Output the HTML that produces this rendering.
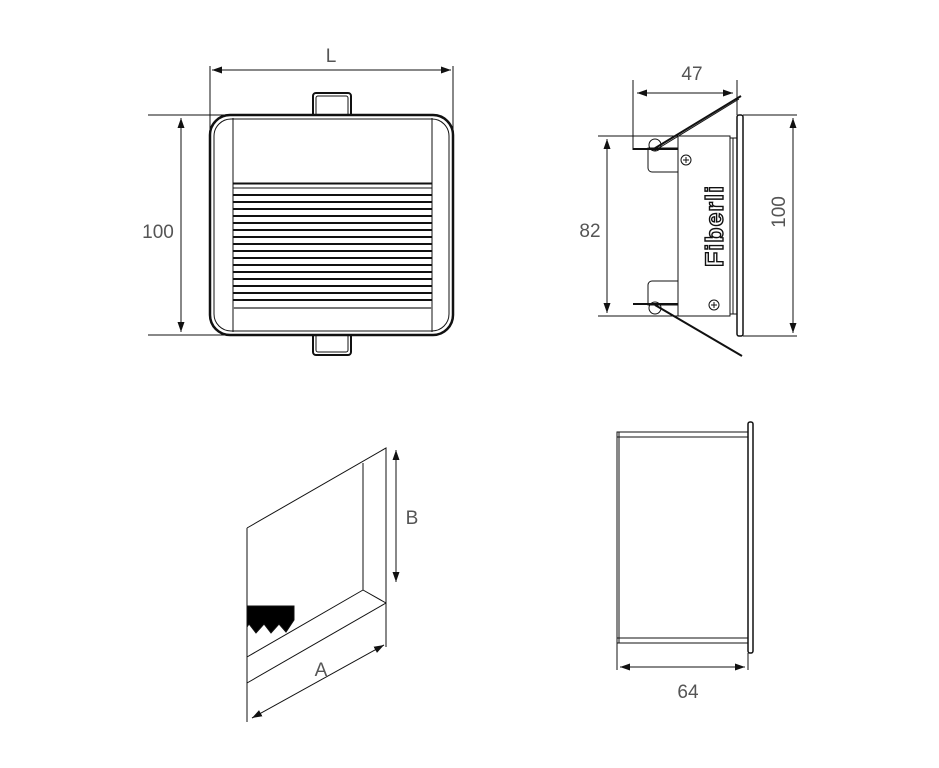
<!DOCTYPE html>
<html><head><meta charset="utf-8"><style>
html,body{margin:0;padding:0;background:#fff;}
svg{display:block;}
text{font-family:"Liberation Sans",sans-serif;fill:#555;font-size:19px;}
</style></head><body>
<svg width="939" height="768" viewBox="0 0 939 768" xmlns="http://www.w3.org/2000/svg">
<defs>
<marker id="a" viewBox="0 0 10 10" refX="10" refY="5" markerWidth="10" markerHeight="10" orient="auto-start-reverse" markerUnits="userSpaceOnUse"><path d="M0,1.5 L10,5 L0,8.5 z" fill="#111"/></marker>
</defs>
<g stroke="#111" fill="none" stroke-width="1">
<!-- Front view -->
<line x1="210" y1="66" x2="210" y2="137"/>
<line x1="453" y1="66" x2="453" y2="137"/>
<line x1="212" y1="70" x2="451" y2="70" marker-start="url(#a)" marker-end="url(#a)"/>
<line x1="148" y1="115" x2="257" y2="115"/>
<line x1="148" y1="335" x2="257" y2="335"/>
<line x1="181" y1="118" x2="181" y2="332" marker-start="url(#a)" marker-end="url(#a)"/>
<rect x="313" y="93" width="38" height="24" rx="3" stroke-width="2"/>
<rect x="316" y="96" width="32" height="20" rx="2"/>
<rect x="313" y="333" width="38" height="22" rx="3" stroke-width="2"/>
<rect x="316" y="334" width="32" height="18" rx="2"/>
<rect x="210" y="115" width="243" height="220" rx="20" fill="#fff" stroke-width="2.5"/>
<rect x="214" y="119" width="235" height="212" rx="17"/>
<line x1="233" y1="118" x2="233" y2="332"/>
<line x1="432" y1="118" x2="432" y2="332"/>
<line x1="233" y1="119" x2="432" y2="119"/>
<line x1="233" y1="331" x2="432" y2="331"/>
<g stroke-width="2">
<line x1="233" y1="183.5" x2="432" y2="183.5"/>
<line x1="233" y1="195" x2="432" y2="195"/>
<line x1="233" y1="202" x2="432" y2="202"/>
<line x1="233" y1="209" x2="432" y2="209"/>
<line x1="233" y1="216" x2="432" y2="216"/>
<line x1="233" y1="223" x2="432" y2="223"/>
<line x1="233" y1="230" x2="432" y2="230"/>
<line x1="233" y1="237" x2="432" y2="237"/>
<line x1="233" y1="244" x2="432" y2="244"/>
<line x1="233" y1="251" x2="432" y2="251"/>
<line x1="233" y1="258" x2="432" y2="258"/>
<line x1="233" y1="265" x2="432" y2="265"/>
<line x1="233" y1="272" x2="432" y2="272"/>
<line x1="233" y1="279" x2="432" y2="279"/>
<line x1="233" y1="286" x2="432" y2="286"/>
<line x1="233" y1="293" x2="432" y2="293"/>
<line x1="233" y1="300" x2="432" y2="300"/>
<line x1="233" y1="308" x2="432" y2="308" stroke="#777"/>
</g>
<line x1="233" y1="188" x2="432" y2="188"/>

<!-- Side view -->
<line x1="633" y1="80" x2="633" y2="150"/>
<line x1="737" y1="80" x2="737" y2="115"/>
<line x1="637" y1="93" x2="733" y2="93" marker-start="url(#a)" marker-end="url(#a)"/>
<line x1="743" y1="115" x2="797" y2="115"/>
<line x1="743" y1="336" x2="797" y2="336"/>
<line x1="793" y1="118" x2="793" y2="333" marker-start="url(#a)" marker-end="url(#a)"/>
<line x1="598" y1="136" x2="680" y2="136"/>
<line x1="598" y1="316" x2="680" y2="316"/>
<line x1="607" y1="139" x2="607" y2="313" marker-start="url(#a)" marker-end="url(#a)"/>
<rect x="678" y="136" width="52" height="180" fill="#fff"/>
<rect x="730" y="138" width="7" height="176"/>
<line x1="733" y1="138" x2="733" y2="314"/>
<rect x="737" y="115" width="6" height="221" rx="2" stroke-width="1.5"/>
<path d="M648,148 h30 v24 h-26 a4,4 0 0 1 -4,-4 z"/>
<path d="M648,305 h30 v-24 h-26 a4,4 0 0 0 -4,4 z"/>
<circle cx="655" cy="145" r="6"/>
<circle cx="655" cy="308" r="6"/>
<line x1="633" y1="149" x2="678" y2="149" stroke-width="2"/>
<line x1="633" y1="304" x2="678" y2="304" stroke-width="2"/>
<line x1="652" y1="150" x2="741" y2="96" stroke-width="2"/>
<line x1="654" y1="151" x2="739" y2="99"/>
<line x1="655" y1="305" x2="742" y2="356" stroke-width="2"/>
<circle cx="686" cy="160" r="5"/>
<circle cx="714" cy="305" r="5"/>
<path d="M683,160 h6 M686,157 v6 M711,305 h6 M714,302 v6"/>

<!-- Isometric -->
<path d="M247,528 L386,448 L386,647"/>
<line x1="247" y1="528" x2="247" y2="722"/>
<line x1="363" y1="463" x2="363" y2="590"/>
<line x1="363" y1="590" x2="386" y2="603"/>
<line x1="247" y1="657" x2="363" y2="590"/>
<line x1="247" y1="683" x2="386" y2="603"/>
<path d="M247,606 H294 V620 L286,632 L279,624 L271,633 L264,624 L256,633 L249,624 L247,627 Z" fill="#000"/>
<line x1="252" y1="718" x2="384" y2="645" marker-start="url(#a)" marker-end="url(#a)"/>
<line x1="396" y1="450" x2="396" y2="582" marker-start="url(#a)" marker-end="url(#a)"/>

<!-- Side box -->
<rect x="617" y="432" width="131" height="211"/>
<line x1="617" y1="437" x2="748" y2="437"/>
<line x1="617" y1="638" x2="748" y2="638"/>
<line x1="619" y1="432" x2="619" y2="643"/>
<rect x="748" y="422" width="5" height="231" rx="2" stroke-width="1.5"/>
<line x1="617" y1="643" x2="617" y2="670"/>
<line x1="748" y1="653" x2="748" y2="670"/>
<line x1="620" y1="667" x2="745" y2="667" marker-start="url(#a)" marker-end="url(#a)"/>
</g>
<text x="331" y="62" text-anchor="middle">L</text>
<text x="158" y="238" text-anchor="middle">100</text>
<text x="692" y="80" text-anchor="middle">47</text>
<text x="590" y="237" text-anchor="middle">82</text>
<text transform="translate(785,212) rotate(-90)" text-anchor="middle">100</text>
<text transform="translate(723,226) rotate(-90)" text-anchor="middle" style="font-size:25px;font-weight:bold;fill:#fff;stroke:#111;stroke-width:1.4;letter-spacing:1px">Fiberli</text>
<text x="412" y="524" text-anchor="middle">B</text>
<text x="321" y="676" text-anchor="middle">A</text>
<text x="688" y="698" text-anchor="middle">64</text>
</svg>
</body></html>
